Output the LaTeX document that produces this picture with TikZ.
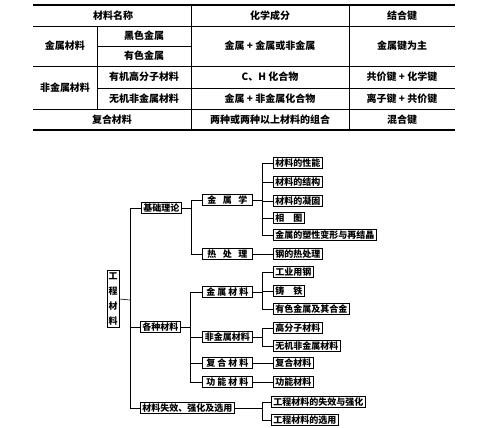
\documentclass[tikz,border=0pt]{standalone}
\usepackage{fontspec}
\setmainfont{Noto Sans CJK SC}
\usetikzlibrary{positioning}
\tikzset{
  every picture/.style={x=1pt, y=-1pt, line width=0.6pt},
  cell/.style={font=\fontsize{10}{12}\selectfont\bfseries, inner sep=0pt},
  tablerule/.style={line width=0.5pt},
  thickrule/.style={line width=1.3pt},
  box/.style={draw, line width=0.8pt, inner xsep=2pt, inner ysep=1pt, text height=7.6pt, text depth=1.4pt, font=\fontsize{9}{10}\selectfont\bfseries},
  mid/.style={box, anchor=west, minimum width=50pt},
  leaf/.style={box, anchor=west},
  rootbox/.style={draw, line width=0.8pt, text width=9pt, align=center, inner xsep=1.5pt, inner ysep=2pt, font=\fontsize{9}{15}\selectfont\bfseries},
  link/.style={line width=0.6pt},
}
\newcommand{\spreadbox}[2]{\makebox[#1][s]{#2}}
\begin{document}
\begin{tikzpicture}
\useasboundingbox (0,0) rectangle (504,428);
% table
\draw[thickrule] (33,5) -- (455,5);
\draw[tablerule] (33,26) -- (455,26);
\draw[tablerule] (97,46) -- (191,46);
\draw[tablerule] (33,66) -- (455,66);
\draw[tablerule] (97,88) -- (455,88);
\draw[tablerule] (33,109) -- (455,109);
\draw[thickrule] (33,130) -- (455,130);
\draw[tablerule] (97,26) -- (97,109);
\draw[tablerule] (191,5) -- (191,130);
\draw[tablerule] (349,5) -- (349,130);
\node[cell] (hname) at (113,15.5) {材料名称};
\node[cell] (hchem) at (270,15.5) {化学成分};
\node[cell] (hbond) at (402,15.5) {结合键};
\node[cell] (metal) at (65,46) {金属材料};
\node[cell] (black) at (144,36) {黑色金属};
\node[cell] (color) at (144,56) {有色金属};
\node[cell] (metalchem) at (270,46) {金属 + 金属或非金属};
\node[cell] (metalbond) at (402,46) {金属键为主};
\node[cell] (nonmetal) at (65,87.5) {非金属材料};
\node[cell] (organic) at (144,77) {有机高分子材料};
\node[cell] (orgchem) at (270,77) {C、H 化合物};
\node[cell] (orgbond) at (402,77) {共价键 + 化学键};
\node[cell] (inorg) at (144,98.5) {无机非金属材料};
\node[cell] (inorgchem) at (270,98.5) {金属 + 非金属化合物};
\node[cell] (inorgbond) at (402,98.5) {离子键 + 共价键};
\node[cell] (comp) at (112,119.5) {复合材料};
\node[cell] (compchem) at (270,119.5) {两种或两种以上材料的组合};
\node[cell] (compbond) at (402,119.5) {混合键};
% tree
\node[rootbox] (gcl) at (113,299) {工\\程\\材\\料};
\node[box, anchor=west] (jclx) at (141,208) {基础理论};
\node[box, anchor=west] (gzcl) at (140,327) {各种材料};
\node[box, anchor=west] (sxxy) at (140,408) {材料失效、强化及选用};
\node[mid] (jsx) at (202,200) {\spreadbox{40pt}{金\hfill 属\hfill 学}};
\node[mid] (rcl) at (202,254) {\spreadbox{40pt}{热\hfill 处\hfill 理}};
\node[mid] (jscl) at (202,292) {\spreadbox{42pt}{金\hfill 属\hfill 材\hfill 料}};
\node[mid] (fjs) at (202,337) {非金属材料};
\node[mid] (fhcl) at (202,363) {\spreadbox{42pt}{复\hfill 合\hfill 材\hfill 料}};
\node[mid] (gncl) at (202,382) {\spreadbox{42pt}{功\hfill 能\hfill 材\hfill 料}};
\node[leaf] (xn) at (273,163) {材料的性能};
\node[leaf] (jg) at (273,182) {材料的结构};
\node[leaf] (ng) at (273,201) {材料的凝固};
\node[leaf] (xt) at (273,218) {\spreadbox{27pt}{相\hfill 图}};
\node[leaf] (sxbx) at (273,235) {金属的塑性变形与再结晶};
\node[leaf] (grcl) at (273,254) {钢的热处理};
\node[leaf] (gyg) at (273,272) {工业用钢};
\node[leaf] (zt) at (273,291) {\spreadbox{27pt}{铸\hfill 铁}};
\node[leaf] (ys) at (273,309) {有色金属及其合金};
\node[leaf] (gfz) at (273,328) {高分子材料};
\node[leaf] (wj) at (273,346) {无机非金属材料};
\node[leaf] (fh) at (273,363) {复合材料};
\node[leaf] (gn) at (273,382) {功能材料};
\node[leaf] (sxqh) at (271,402) {工程材料的失效与强化};
\node[leaf] (xy) at (271,420) {工程材料的选用};
% connectors
\coordinate (trunk) at (130,300);
\coordinate (jcbus) at (191,208);
\coordinate (gzbus) at (190,327);
\coordinate (jsbus) at (262,200);
\coordinate (jsclbus) at (262,292);
\coordinate (fjsbus) at (262,337);
\coordinate (sxbus) at (262,408);
\draw[link] (gcl.east) -- (trunk);
\foreach \n in {jclx, gzcl, sxxy} \draw[link] (trunk) |- (\n.west);
\draw[link] (jclx.east) -- (jcbus);
\foreach \n in {jsx, rcl} \draw[link] (jcbus) |- (\n.west);
\draw[link] (gzcl.east) -- (gzbus);
\foreach \n in {jscl, fjs, fhcl, gncl} \draw[link] (gzbus) |- (\n.west);
\draw[link] (jsx.east) -- (jsbus);
\foreach \n in {xn, jg, ng, xt, sxbx} \draw[link] (jsbus) |- (\n.west);
\draw[link] (rcl.east) -- (grcl.west);
\draw[link] (jscl.east) -- (jsclbus);
\foreach \n in {gyg, zt, ys} \draw[link] (jsclbus) |- (\n.west);
\draw[link] (fjs.east) -- (fjsbus);
\foreach \n in {gfz, wj} \draw[link] (fjsbus) |- (\n.west);
\draw[link] (fhcl.east) -- (fh.west);
\draw[link] (gncl.east) -- (gn.west);
\draw[link] (sxxy.east) -- (sxbus);
\foreach \n in {sxqh, xy} \draw[link] (sxbus) |- (\n.west);
\end{tikzpicture}
\end{document}
